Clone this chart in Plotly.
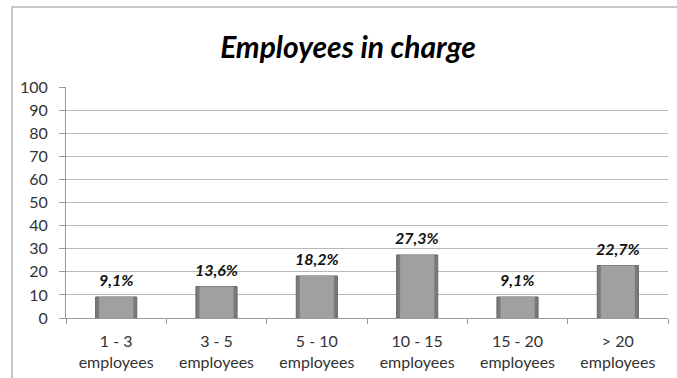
import plotly.graph_objects as go

# Share of companies by number of employees in charge
categories = ["1 - 3<br>employees", "3 - 5<br>employees", "5 - 10<br>employees",
              "10 - 15<br>employees", "15 - 20<br>employees", "> 20<br>employees"]
values = [9.1, 13.6, 18.2, 27.3, 9.1, 22.7]
value_labels = ["9,1%", "13,6%", "18,2%", "27,3%", "9,1%", "22,7%"]
y_ticks = list(range(0, 101, 10))

FONT = "Lato, 'Open Sans', sans-serif"

fig = go.Figure()

# Outer bar body (darker rim)
fig.add_trace(go.Bar(
    x=categories, y=values, width=0.41,
    marker=dict(color="#7a7a7a", line=dict(color="#666666", width=1)),
    hoverinfo="skip", showlegend=False,
))
# Lighter inner face for a bevelled look
fig.add_trace(go.Bar(
    x=categories, y=values, width=0.34,
    marker=dict(color="#a0a0a0", line=dict(width=0)),
    hoverinfo="skip", showlegend=False,
))

# Value labels above bars
for cat, val, lab in zip(categories, values, value_labels):
    fig.add_annotation(
        x=cat, y=val, text=f"<b><i>{lab}</i></b>", showarrow=False,
        yanchor="bottom", yshift=6,
        font=dict(family=FONT, size=16, color="#111111"),
    )

# Chart frame
fig.add_shape(type="rect", xref="paper", yref="paper",
              x0=-0.0897, x1=1.2, y0=-0.5, y1=1.346,
              line=dict(color="#b5b5b5", width=1.5), layer="below")

fig.update_layout(
    width=677, height=378,
    margin=dict(l=66, r=9, t=87, b=60, autoexpand=False),
    paper_bgcolor="white", plot_bgcolor="white",
    barmode="overlay",
    title=dict(text="<b><i>Employees in charge</i></b>", x=348 / 677, xanchor="center",
               xref="container", y=1 - 47 / 378, yref="container", yanchor="middle",
               font=dict(family=FONT, size=30, color="#000000")),
    font=dict(family=FONT, size=16, color="#333333"),
    xaxis=dict(
        showline=True, linecolor="#9a9a9a", linewidth=1, automargin=False,
        ticks="outside", tickson="boundaries", ticklen=5, tickcolor="#9a9a9a",
        tickfont=dict(size=16, color="#333333"), ticklabelstandoff=9,
        showgrid=False,
    ),
    yaxis=dict(
        range=[0, 100], tickvals=y_ticks, automargin=False,
        showline=True, linecolor="#9a9a9a", linewidth=1,
        ticks="outside", ticklen=6, tickcolor="#9a9a9a",
        showgrid=True, gridcolor="#b8b8b8", gridwidth=1,
        zeroline=False, ticklabelstandoff=8,
        tickfont=dict(size=16, color="#333333"),
    ),
)

fig.write_html("out.html")
